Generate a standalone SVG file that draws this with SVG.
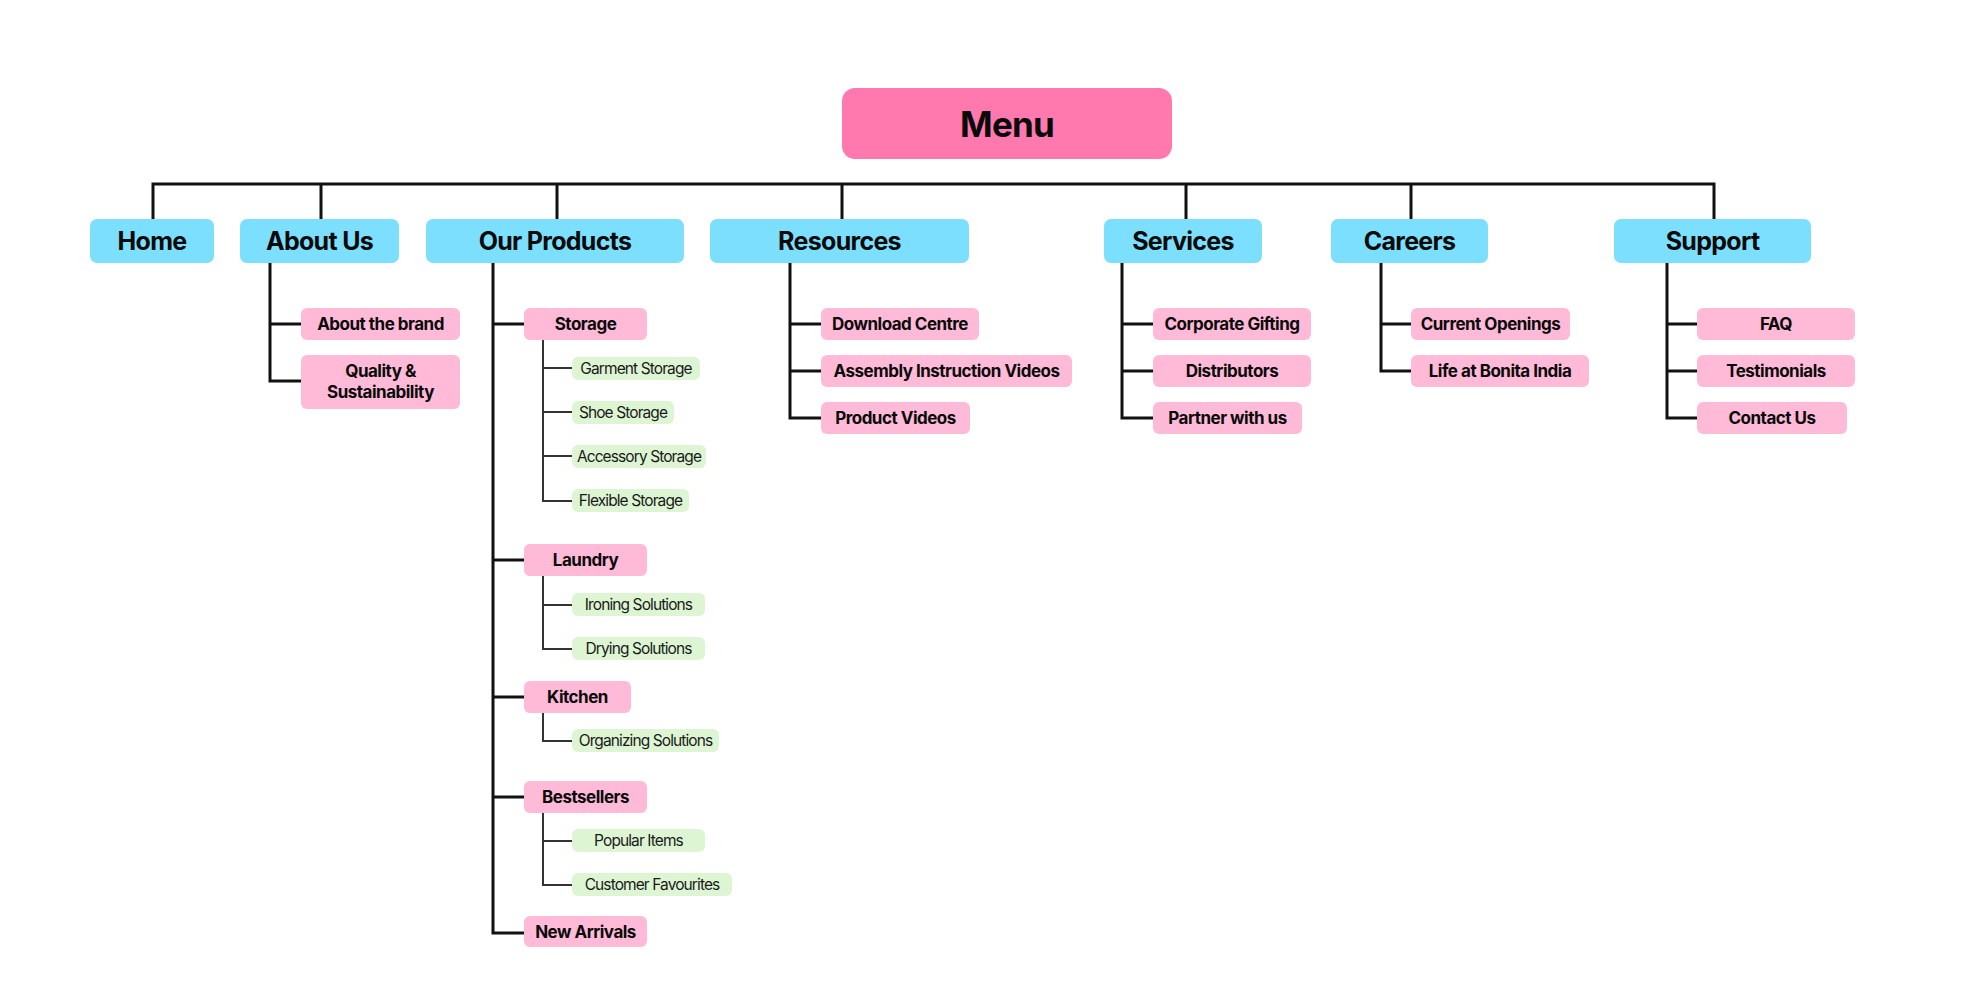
<svg xmlns="http://www.w3.org/2000/svg" width="1984" height="1008" viewBox="0 0 1984 1008">
<style>
text{font-family:Inter,"Noto Sans","Liberation Sans",sans-serif;fill:#0a0a0a;text-anchor:middle}
.root{fill:#FF78AE}
.top{fill:#7CDFFE}
.sub{fill:#FFBAD8}
.leaf{fill:#DDF5D3}
.tRoot{font-size:35px;font-weight:700;letter-spacing:-0.8px}
.tTop{font-size:25px;font-weight:700;letter-spacing:-0.7px}
.tSub{font-size:17px;font-weight:700;letter-spacing:-0.5px}
.tLeaf{font-size:15.5px;font-weight:400;letter-spacing:-0.9px;fill:#1a1a1a}
.c{fill:none;stroke:#111;stroke-width:3}
.c2{fill:none;stroke:#333;stroke-width:2}
</style>
<rect width="1984" height="1008" fill="#fff"/>
<g id="connectors">
<path class="c" d="M153,219V184H1714V219M321,184V219M557,184V219M842,184V219M1186,184V219M1411,184V219"/>
<path class="c" d="M270,263V381H301M270,324H301"/>
<path class="c" d="M493,263V933H524M493,324H524M493,560H524M493,697H524M493,797H524"/>
<path class="c2" d="M543,340V501H572M543,368H572M543,412H572M543,456H572"/>
<path class="c2" d="M543,576V649H572M543,605H572"/>
<path class="c2" d="M543,713V741H572"/>
<path class="c2" d="M543,813V885H572M543,841H572"/>
<path class="c" d="M790,263V418H821M790,324H821M790,371H821"/>
<path class="c" d="M1122,263V418H1153M1122,324H1153M1122,371H1153"/>
<path class="c" d="M1381,263V371H1411M1381,324H1411"/>
<path class="c" d="M1667,263V418H1697M1667,324H1697M1667,371H1697"/>
</g>
<g id="menu"><rect class="root" x="842" y="88" width="330" height="71" rx="13"/><text class="tRoot" x="1007" y="137">Menu</text></g>
<g id="home"><rect class="top" x="90" y="219" width="124" height="44" rx="7"/><text class="tTop" x="152" y="250">Home</text></g>
<g id="about-us"><rect class="top" x="240" y="219" width="159" height="44" rx="7"/><text class="tTop" x="319.5" y="250">About Us</text></g>
<g id="our-products"><rect class="top" x="426" y="219" width="258" height="44" rx="7"/><text class="tTop" x="555" y="250">Our Products</text></g>
<g id="resources"><rect class="top" x="710" y="219" width="259" height="44" rx="7"/><text class="tTop" x="839.5" y="250">Resources</text></g>
<g id="services"><rect class="top" x="1104" y="219" width="158" height="44" rx="7"/><text class="tTop" x="1183" y="250">Services</text></g>
<g id="careers"><rect class="top" x="1331" y="219" width="157" height="44" rx="7"/><text class="tTop" x="1409.5" y="250">Careers</text></g>
<g id="support"><rect class="top" x="1614" y="219" width="197" height="44" rx="7"/><text class="tTop" x="1712.5" y="250">Support</text></g>

<g id="about-the-brand"><rect class="sub" x="301" y="308" width="159" height="32" rx="6"/><text class="tSub" x="380.5" y="330">About the brand</text></g>
<g id="quality"><rect class="sub" x="301" y="355" width="159" height="54" rx="6"/><text class="tSub" x="380.5" y="377">Quality &amp;</text><text class="tSub" x="380.5" y="398">Sustainability</text></g>

<g id="storage"><rect class="sub" x="524" y="308" width="123" height="32" rx="6"/><text class="tSub" x="585.5" y="330">Storage</text></g>
<g id="garment-storage"><rect class="leaf" x="572" y="357" width="128" height="23" rx="6"/><text class="tLeaf" x="636" y="373.5">Garment Storage</text></g>
<g id="shoe-storage"><rect class="leaf" x="572" y="401" width="102" height="23" rx="6"/><text class="tLeaf" x="623" y="417.5">Shoe Storage</text></g>
<g id="accessory-storage"><rect class="leaf" x="572" y="445" width="134" height="23" rx="6"/><text class="tLeaf" x="639" y="461.5">Accessory Storage</text></g>
<g id="flexible-storage"><rect class="leaf" x="572" y="489" width="117" height="23" rx="6"/><text class="tLeaf" x="630.5" y="505.5">Flexible Storage</text></g>

<g id="laundry"><rect class="sub" x="524" y="544" width="123" height="32" rx="6"/><text class="tSub" x="585.5" y="566">Laundry</text></g>
<g id="ironing-solutions"><rect class="leaf" x="572" y="593" width="133" height="23" rx="6"/><text class="tLeaf" x="638.5" y="609.5">Ironing Solutions</text></g>
<g id="drying-solutions"><rect class="leaf" x="572" y="637" width="133" height="23" rx="6"/><text class="tLeaf" x="638.5" y="653.5">Drying Solutions</text></g>

<g id="kitchen"><rect class="sub" x="524" y="681" width="107" height="32" rx="6"/><text class="tSub" x="577.5" y="703">Kitchen</text></g>
<g id="organizing-solutions"><rect class="leaf" x="572" y="729" width="147" height="23" rx="6"/><text class="tLeaf" x="645.5" y="745.5">Organizing Solutions</text></g>

<g id="bestsellers"><rect class="sub" x="524" y="781" width="123" height="32" rx="6"/><text class="tSub" x="585.5" y="803">Bestsellers</text></g>
<g id="popular-items"><rect class="leaf" x="572" y="829" width="133" height="23" rx="6"/><text class="tLeaf" x="638.5" y="845.5">Popular Items</text></g>
<g id="customer-favourites"><rect class="leaf" x="572" y="873" width="160" height="23" rx="6"/><text class="tLeaf" x="652" y="889.5">Customer Favourites</text></g>

<g id="new-arrivals"><rect class="sub" x="524" y="916" width="123" height="31" rx="6"/><text class="tSub" x="585.5" y="937.5">New Arrivals</text></g>

<g id="download-centre"><rect class="sub" x="821" y="308" width="158" height="32" rx="6"/><text class="tSub" x="900" y="330">Download Centre</text></g>
<g id="assembly-videos"><rect class="sub" x="821" y="355" width="251" height="32" rx="6"/><text class="tSub" x="946.5" y="377">Assembly Instruction Videos</text></g>
<g id="product-videos"><rect class="sub" x="821" y="402" width="149" height="32" rx="6"/><text class="tSub" x="895.5" y="424">Product Videos</text></g>

<g id="corporate-gifting"><rect class="sub" x="1153" y="308" width="158" height="32" rx="6"/><text class="tSub" x="1232" y="330">Corporate Gifting</text></g>
<g id="distributors"><rect class="sub" x="1153" y="355" width="158" height="32" rx="6"/><text class="tSub" x="1232" y="377">Distributors</text></g>
<g id="partner"><rect class="sub" x="1153" y="402" width="149" height="32" rx="6"/><text class="tSub" x="1227.5" y="424">Partner with us</text></g>

<g id="current-openings"><rect class="sub" x="1411" y="308" width="159" height="32" rx="6"/><text class="tSub" x="1490.5" y="330">Current Openings</text></g>
<g id="life-at-bonita"><rect class="sub" x="1411" y="355" width="178" height="32" rx="6"/><text class="tSub" x="1500" y="377">Life at Bonita India</text></g>

<g id="faq"><rect class="sub" x="1697" y="308" width="158" height="32" rx="6"/><text class="tSub" x="1776" y="330">FAQ</text></g>
<g id="testimonials"><rect class="sub" x="1697" y="355" width="158" height="32" rx="6"/><text class="tSub" x="1776" y="377">Testimonials</text></g>
<g id="contact-us"><rect class="sub" x="1697" y="402" width="150" height="32" rx="6"/><text class="tSub" x="1772" y="424">Contact Us</text></g>
</svg>
